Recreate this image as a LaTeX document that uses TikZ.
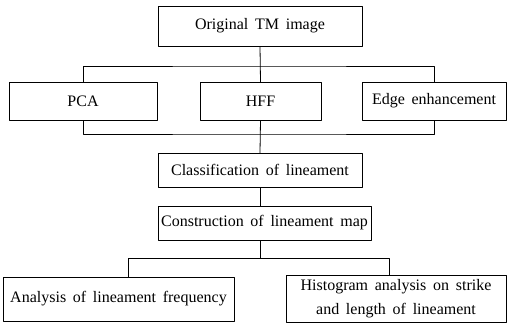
\documentclass[tikz,border=0pt]{standalone}
\usepackage{fontspec}
\setmainfont{Liberation Serif}
\newcommand\boxfont{\fontsize{16}{20}\selectfont\spaceskip 0.42em plus 0.1em minus 0.1em\relax}
\begin{document}
\begin{tikzpicture}[x=1pt,y=-1pt,line join=round,line cap=round,font=\boxfont,
	box/.style={draw,line width=0.8pt,inner sep=0pt,align=center},
	link/.style={line width=0.8pt}]
	\def \ww{516};
	\def \hh{325};
	\useasboundingbox (0,0) rectangle (\ww,\hh);
	% boxes
	\node[box,minimum width=204,minimum height=40] (orig) at (260,26) {Original TM image};
	\node[box,minimum width=148,minimum height=38] (pca) at (83,101) {PCA};
	\node[box,minimum width=121,minimum height=38] (hff) at (260.5,101) {HFF};
	\node[box,minimum width=144,minimum height=38] (edge) at (434,101) {Edge enhancement};
	\node[box,minimum width=204,minimum height=34] (cls) at (260,170) {Classification of lineament};
	\node[box,minimum width=213,minimum height=34] (con) at (264.5,223) {Construction of lineament map};
	\node[box,minimum width=231,minimum height=44] (ana) at (118.5,299) {Analysis of lineament frequency};
	\node[box,minimum width=220,minimum height=47] (hist) at (396,298.5) {Histogram analysis on strike\\[4pt]and length of lineament};
	% joints
	\coordinate (top) at (260,66);
	\coordinate (mid) at (260,134);
	\coordinate (low) at (260,258);
	\coordinate (lowl) at (128,258);
	\coordinate (lowr) at (389,258);
	\draw[link] (orig.south) -- (hff.north);
	\draw[link] (pca.north) |- (top) -| (edge.north);
	\draw[link] (hff.south) -- (cls.north);
	\draw[link] (pca.south) |- (mid) -| (edge.south);
	\draw[link] (cls.south) -- (cls.south |- con.north);
	\draw[link] (con.south -| low) -- (low);
	\draw[link] (lowl |- ana.north) -- (lowl) -- (lowr) -- (lowr |- hist.north);
\end{tikzpicture}
\end{document}
